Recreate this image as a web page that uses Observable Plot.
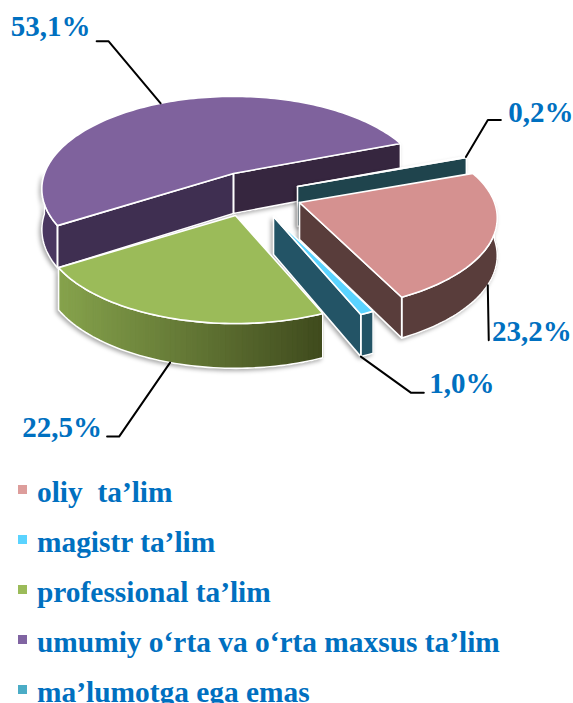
<!DOCTYPE html>
<html><head><meta charset="utf-8">
<script src="https://cdn.jsdelivr.net/npm/d3@7"></script>
<script src="https://cdn.jsdelivr.net/npm/@observablehq/plot@0.6"></script>
<style>
html,body{margin:0;padding:0;background:#fff;width:573px;height:703px;overflow:hidden}
#legend{position:absolute;left:18px;top:467px;font:bold 29.4px "Liberation Serif",serif;color:#0070C0;white-space:pre}
#legend div{height:50px;line-height:50px;display:flex;align-items:center}
#legend i{display:inline-block;width:9px;height:9px;margin-right:10px;position:relative;top:-3px}
</style></head><body>
<div id="chart"></div><div id="legend"></div>
<script>
// Data
const categories = ["oliy  ta’lim","magistr ta’lim","professional ta’lim","umumiy o‘rta va o‘rta maxsus ta’lim","ma’lumotga ega emas"];
const values = [23.2,1.0,22.5,53.1,0.2];
const legendColors = ["#dd9d9b","#5ad3ff","#9bbb59","#8064a2","#4bacc6"];

// Styles and layout (not data)
const topColors = ["#d59190","#5ad3ff","#9bbb59","#7f629d","#1f444d"];
const outerWall = ["#593d3b","#235466",["#86a34c","#3f4a1d"],"#4a3760","#1f444d"];
const startWall = ["#593d3b","#235466","#3f4a1d","#3f2f51","#1f444d"];
const endWall = ["#593d3b","#235466","#3f4a1d","#36263f","#1f444d"];
const apexes = [[299,202],[273,216],[235,215],[233,173],[297,186]];
const radii = [195,190,190,189,190];
const depths = [37,38,40,40,40];
const drawOrder = [3,4,0,1,2];
const ry=90, k=.167;
// where each leader leaves the slice, as a fraction along its arc, and whether on the bottom rim, then its elbows relative to that point
const leaders = [
 {t:.56,bottom:true,path:[[1,55]],text:[44,47]},
 {t:1,bottom:true,path:[[50,36],[63,36]],text:[101,27]},
 {t:.49,bottom:true,path:[[-51,74],[-63,74]],text:[-108,65]},
 {t:.50,bottom:false,path:[[-52,-62],[-64,-62]],text:[-110,-77]},
 {t:.5,bottom:false,path:[[22,-37],[35,-37]],text:[75,-44]}
];

const pieGen = d3.pie().sort(null).value(d=>d).startAngle(70*Math.PI/180).endAngle(430*Math.PI/180);
const arcs = pieGen(values);
function pt(i,a,lower=false){ // a is the pie angle, clockwise from 12 o'clock
  const th=Math.PI/2-a,u=Math.cos(th),v=Math.sin(th),s=1/(1+k*v);
  const down=lower?depths[i]*(1+(s-1)*.6):0;
  return [apexes[i][0]+radii[i]*u*s, apexes[i][1]-ry*v*s+down, v];
}
const xy=p=>p.slice(0,2);
const poly=(id,pts,fill,stroke)=>pts.concat([pts[0]]).map(p=>({id,x:p[0],y:p[1],fill,stroke:stroke||fill}));
const marks=[];
const chan={x:"x",y:"y",z:"id",fill:"fill",stroke:"stroke"};
const shadow="drop-shadow(-2px 2px 2px rgba(0,0,0,.35))";

drawOrder.forEach(i=>{
  const A=arcs[i], N=Math.max(2,Math.round((A.endAngle-A.startAngle)*40));
  const ang=d3.range(N+1).map(j=>A.startAngle+(A.endAngle-A.startAngle)*j/N);
  const ap=apexes[i];
  const walls=[],outline=[];
  // outer wall: only the part facing the viewer
  const vis=ang.filter(a=>pt(i,a)[2]<0);
  if(vis.length>1){
    const rim=vis.map(a=>xy(pt(i,a))).concat(vis.slice().reverse().map(a=>xy(pt(i,a,true))));
    if(Array.isArray(outerWall[i])){
      const xs=vis.map(a=>pt(i,a)[0]);
      const gr=d3.scaleLinear().domain(d3.extent(xs)).range([0,1]);
      const ci=d3.interpolateRgb(outerWall[i][0],outerWall[i][1]);
      for(let j=0;j<vis.length-1;j++){
        const p=pt(i,vis[j]),q=pt(i,vis[j+1]);
        const col=ci(gr((p[0]+q[0])/2));
        walls.push(...poly(`o${i}-${j}`,[xy(p),xy(q),xy(pt(i,vis[j+1],true)),xy(pt(i,vis[j],true))],col,col));
      }
    } else walls.push(...poly(`o${i}`,rim,outerWall[i]));
    outline.push(...poly(`ol${i}`,rim,"none","white"));
  }
  // flat cut faces, shown when they face the viewer
  const cut=(a,id,col)=>{
    const e=pt(i,a),e2=pt(i,a,true);
    const pts=[ap,xy(e),xy(e2),[ap[0],ap[1]+depths[i]]];
    walls.push(...poly(id,pts,col));
    outline.push(...poly(id+"l",pts,"none","white"));
  };
  const thS=Math.PI/2-A.startAngle, thE=Math.PI/2-A.endAngle;
  if(Math.cos(thS)<0) cut(A.startAngle,`s${i}`,startWall[i]);
  if(Math.cos(thE)>0) cut(A.endAngle,`e${i}`,endWall[i]);
  marks.push(Plot.line(walls,{...chan,curve:"linear",strokeWidth:1,imageFilter:shadow}));
  marks.push(Plot.line(outline,{...chan,curve:"linear",strokeWidth:1.6}));
  // top surface
  const top=poly(`t${i}`,[ap,...ang.map(a=>xy(pt(i,a)))],topColors[i],"white");
  marks.push(Plot.line(top,{...chan,curve:"linear",strokeWidth:1.6}));
});

// leaders and value labels
const fmt=v=>d3.format(".1f")(v).replace(".",",")+"%";
const leaderRows=[],labelRows=[];
leaders.forEach((L,i)=>{
  const A=arcs[i],p=pt(i,A.startAngle+(A.endAngle-A.startAngle)*L.t,L.bottom);
  [[0,0],...L.path].forEach(o=>leaderRows.push({i,x:p[0]+o[0],y:p[1]+o[1]}));
  labelRows.push({x:p[0]+L.text[0],y:p[1]+L.text[1],label:fmt(values[i])});
});
marks.push(Plot.line(leaderRows,{x:"x",y:"y",z:"i",stroke:"black",strokeWidth:2,curve:"linear"}));
marks.push(Plot.text(labelRows,{x:"x",y:"y",text:"label",fill:"#0070C0",fontSize:29,fontWeight:"bold",fontFamily:"Liberation Serif",textAnchor:"middle"}));

const W=573,H=467;
const chart=Plot.plot({
  width:W,height:H,margin:0,
  x:{domain:[0,W],range:[0,W],axis:null},
  y:{domain:[0,H],range:[0,H],axis:null},
  color:{type:"identity"},
  style:{background:"white",display:"block"},
  marks
});
document.getElementById("chart").append(chart);
const lg=document.getElementById("legend");
categories.forEach((c,i)=>{
  const d=document.createElement("div");
  const sw=document.createElement("i");sw.style.background=legendColors[i];
  d.append(sw,document.createTextNode(c));lg.append(d);
});
</script></body></html>
